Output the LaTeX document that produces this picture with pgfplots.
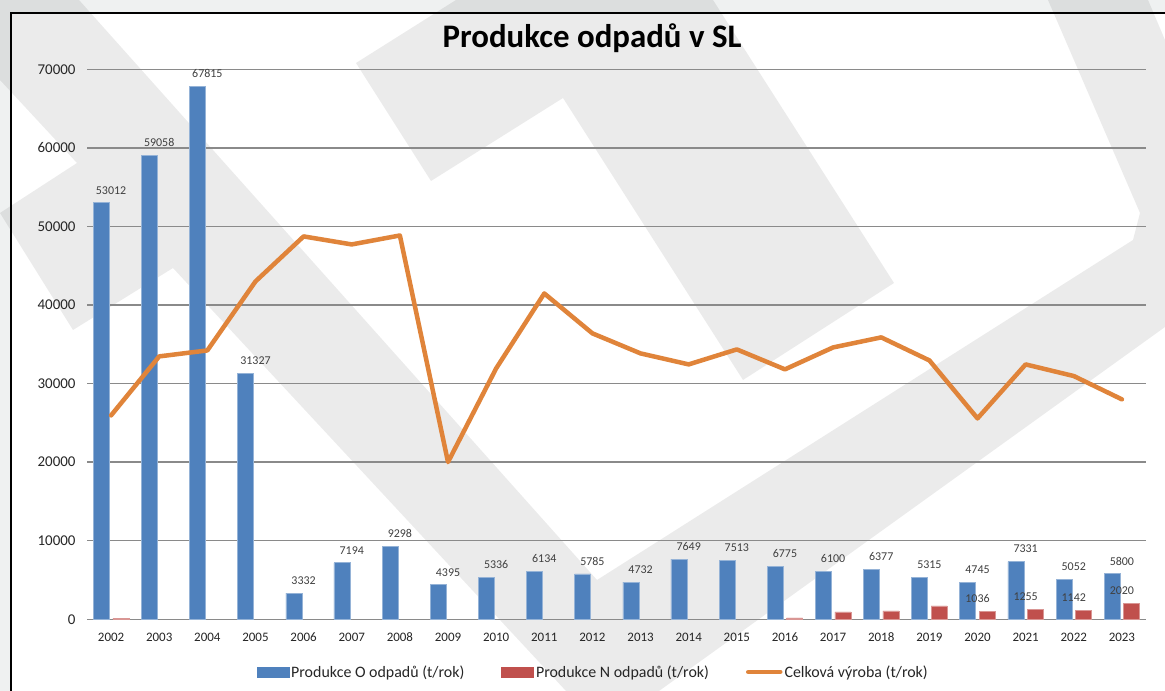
\documentclass[border=0pt]{standalone}
\usepackage{fontspec}
\setmainfont{Carlito}
\usepackage{pgfplots}
\pgfplotsset{compat=1.18}
\definecolor{barblue}{HTML}{4F81BD}
\definecolor{barred}{HTML}{C0504D}
\definecolor{lineor}{HTML}{E0843A}
\definecolor{gridgray}{HTML}{8A8A8A}
\definecolor{outerbg}{HTML}{EFF1F1}
\definecolor{txt}{HTML}{262626}
\definecolor{lbl}{HTML}{404040}
\begin{document}
\begin{tikzpicture}
\begin{scope}[x=1bp,y=1bp]
\useasboundingbox (0,0) rectangle (1165,691);
\fill[outerbg] (0,0) rectangle (1165,691);
\fill[white] (10,0) rectangle (1165,679);
% watermark
\fill[black, fill opacity=0.08] (356,628) -- (456,691) -- (713,691) -- (894,408) -- (743,311) -- (563,593) -- (431,510) -- cycle;
\fill[black, fill opacity=0.08] (0,691) -- (79,691) -- (597,111) -- (1133,451) -- (1140,478) -- (1048,691) -- (1148,691) -- (1165,651) -- (1165,364) -- (659,0) -- (566,0) -- (173,423) -- (73,361) -- (0,478) -- (77,528) -- (0,611) -- cycle;
\draw[black, line width=2.5bp] (11,0) -- (11,678) -- (1165,678);
\node[font=\bfseries\fontsize{33}{38}\selectfont, anchor=base, text=black] at (592,643) {Produkce odpadů v SL};
\end{scope}
\begin{axis}[
  at={(87bp,71.7bp)}, anchor=south west,
  scale only axis, width=1059bp, height=550bp,
  xmin=-0.5, xmax=21.5, ymin=0, ymax=70000,
  separate axis lines,
  axis x line*=bottom, axis y line*=left,
  y axis line style={draw=none},
  x axis line style={gridgray, line width=1.5bp},
  ymajorgrids, grid style={gridgray, line width=1.5bp},
  major tick length=0,
  xtick={0,...,21},
  xticklabels={2002,2003,2004,2005,2006,2007,2008,2009,2010,2011,2012,2013,2014,2015,2016,2017,2018,2019,2020,2021,2022,2023},
  ytick={0,10000,...,70000},
  scaled y ticks=false,
  /pgf/number format/.cd, 1000 sep={}, assume math mode=true, /pgfplots/.cd,
  y tick label style={font=\fontsize{15}{18}\selectfont, text=txt, xshift=-8bp},
  x tick label style={font=\fontsize{13}{15}\selectfont, text=txt, yshift=-10bp},
  clip=false,
  legend columns=3,
  legend style={draw=none, fill=none, at={(0.478,-0.0958)}, anchor=center,
    font=\fontsize{16}{19}\selectfont, text=txt,
    /tikz/every even column/.append style={column sep=35bp}},
]
\addplot[ybar, bar width=16bp, bar shift=-9.75bp, fill=barblue, draw=barblue!60!white, line width=0.6bp,
  point meta=y, nodes near coords,
  every node near coord/.append style={font=\fontsize{12}{14}\selectfont, text=lbl, yshift=5bp},
  legend image code/.code={\fill[barblue] (0bp,-5bp) rectangle (32bp,5bp);}]
coordinates {
(0,53012) (1,59058) (2,67815) (3,31327) (4,3332) (5,7194) (6,9298) (7,4395) (8,5336) (9,6134) (10,5785)
(11,4732) (12,7649) (13,7513) (14,6775) (15,6100) (16,6377) (17,5315) (18,4745) (19,7331) (20,5052) (21,5800)
};
\addlegendentry{Produkce O odpadů (t/rok)}
\addplot[ybar, bar width=16bp, bar shift=9.75bp, fill=barred, draw=barred!60!white, line width=0.6bp,
  point meta=explicit symbolic, nodes near coords,
  every node near coord/.append style={font=\fontsize{12}{14}\selectfont, text=lbl, yshift=5bp},
  legend image code/.code={\fill[barred] (0bp,-5bp) rectangle (32bp,5bp);}]
coordinates {
(0,120) [\relax] (14,170) [\relax] (15,930) [\relax] (16,1060) [\relax] (17,1700) [\relax]
(18,1036) [1036] (19,1255) [1255] (20,1142) [1142] (21,2020) [2020]
};
\addlegendentry{Produkce N odpadů (t/rok)}
\addplot[sharp plot, lineor, line width=4.5bp, line join=round, line cap=round, mark=none,
  legend image code/.code={\draw[lineor, line width=4.5bp, line cap=round] (2bp,0bp) -- (34bp,0bp);}]
coordinates {
(0,25950) (1,33460) (2,34220) (3,43000) (4,48730) (5,47710) (6,48850) (7,20010) (8,31930) (9,41470) (10,36390)
(11,33840) (12,32440) (13,34350) (14,31810) (15,34600) (16,35880) (17,32950) (18,25570) (19,32440) (20,30960) (21,27990)
};
\addlegendentry{Celková výroba (t/rok)}
\end{axis}
\end{tikzpicture}
\end{document}
